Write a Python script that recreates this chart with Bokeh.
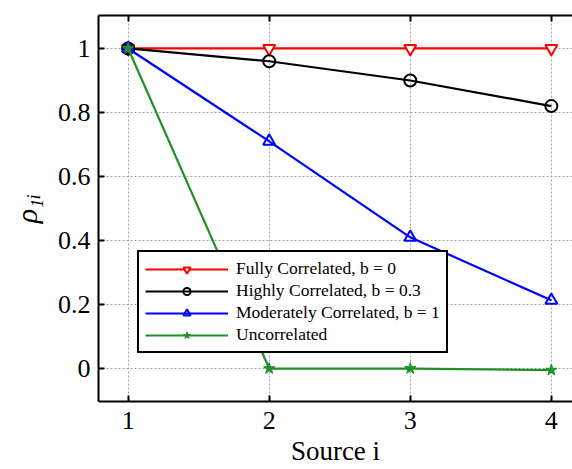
from bokeh.plotting import figure
from bokeh.models import FixedTicker, LinearAxis, Range1d, Legend, LegendItem
from bokeh.embed import file_html
from bokeh.resources import INLINE

sources = [1, 2, 3, 4]
fully = [1.0, 1.0, 1.0, 1.0]
highly = [1.0, 0.96, 0.90, 0.82]
moderate = [1.0, 0.71, 0.41, 0.213]
uncorr = [1.0, 0.0, 0.0, -0.005]
x_ticks = [1, 2, 3, 4]
y_ticks = [0, 0.2, 0.4, 0.6, 0.8, 1.0]
y_tick_labels = {0: "0", 0.2: "0.2", 0.4: "0.4", 0.6: "0.6", 0.8: "0.8", 1.0: "1"}

FONT = "Liberation Serif"
GREEN = "#22902a"

p = figure(width=572, height=469, output_backend="svg", toolbar_location=None,
           x_range=Range1d(0.79, 4.15), y_range=Range1d(-0.103, 1.103),
           min_border_left=98, min_border_right=0, min_border_top=15, min_border_bottom=68)
p.outline_line_color = None
p.background_fill_color = "white"

r1 = p.line(sources, fully, line_color="red", line_width=2.2)
m1 = p.scatter(sources, fully, marker="inverted_triangle", size=12, line_color="red",
               fill_color="white", line_width=2)
r2 = p.line(sources, highly, line_color="black", line_width=2.2)
m2 = p.scatter(sources, highly, marker="circle", size=12, line_color="black",
               fill_color=None, line_width=2)
r3 = p.line(sources, moderate, line_color="blue", line_width=2.2)
m3 = p.scatter(sources, moderate, marker="triangle", size=12, line_color="blue",
               fill_color=None, line_width=2)
r4 = p.line(sources, uncorr, line_color=GREEN, line_width=2.2)
m4 = p.scatter(sources, uncorr, marker="star", size=12, line_color=GREEN,
               fill_color=GREEN, line_width=1)

for ax in (p.xaxis[0], p.yaxis[0]):
    ax.axis_line_width = 2
    ax.axis_line_color = "black"
    ax.major_tick_in = 6
    ax.major_tick_out = 0
    ax.minor_tick_line_color = None
    ax.major_tick_line_width = 2
    ax.major_label_text_font = FONT
    ax.major_label_text_font_size = "26px"
    ax.major_label_text_color = "black"
    ax.axis_label_text_font = FONT
    ax.axis_label_text_font_size = "27px"
    ax.axis_label_text_font_style = "normal"
    ax.axis_label_text_color = "black"

p.xaxis[0].ticker = FixedTicker(ticks=x_ticks)
p.yaxis[0].ticker = FixedTicker(ticks=y_ticks)
p.yaxis[0].major_label_overrides = y_tick_labels
p.xaxis[0].axis_label = "Source i"
p.xaxis[0].axis_label_standoff = 4
p.xaxis[0].major_label_standoff = 10
p.yaxis[0].axis_label = "ρ₁ᵢ"
p.yaxis[0].axis_label_text_font_style = "italic"
p.yaxis[0].axis_label_text_font_size = "30px"
p.yaxis[0].major_label_standoff = 8
p.yaxis[0].axis_label_standoff = 12

top = LinearAxis(ticker=FixedTicker(ticks=x_ticks),
                 major_label_overrides={1: "", 2: "", 3: "", 4: ""},
                 axis_line_width=2, major_tick_in=6, major_tick_out=0, major_tick_line_width=2,
                 minor_tick_line_color=None, major_label_standoff=0)
p.add_layout(top, "above")

for g in (p.xgrid[0], p.ygrid[0]):
    g.grid_line_color = "#a0a0a0"
    g.grid_line_dash = "2 2"
    g.grid_line_width = 1
p.xgrid[0].ticker = FixedTicker(ticks=x_ticks)
p.ygrid[0].ticker = FixedTicker(ticks=y_ticks)

legend = Legend(items=[
    LegendItem(label="Fully Correlated, b = 0", renderers=[r1, m1]),
    LegendItem(label="Highly Correlated, b = 0.3", renderers=[r2, m2]),
    LegendItem(label="Moderately Correlated, b = 1", renderers=[r3, m3]),
    LegendItem(label="Uncorrelated", renderers=[r4, m4]),
], location=(39, 48))
legend.label_text_font = FONT
legend.label_text_font_size = "17.5px"
legend.label_text_color = "black"
legend.label_standoff = 8
legend.glyph_width = 83
legend.glyph_height = 18
legend.label_height = 18
legend.spacing = 1
legend.padding = 6
legend.margin = 0
legend.border_line_color = "black"
legend.border_line_alpha = 1
legend.border_line_width = 2
legend.background_fill_alpha = 1
p.add_layout(legend, "center")

open("out.html", "w").write(file_html(p, INLINE))
